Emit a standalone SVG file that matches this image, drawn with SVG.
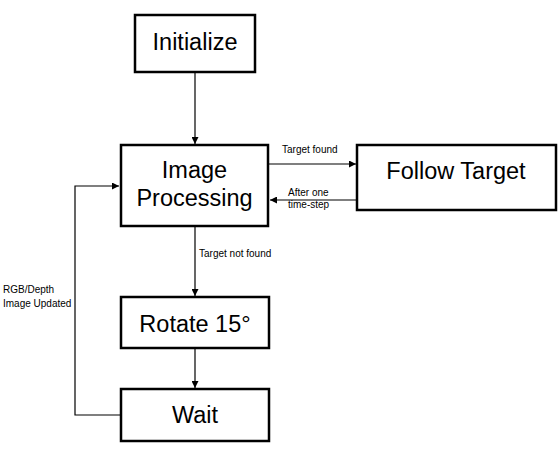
<svg xmlns="http://www.w3.org/2000/svg" width="559" height="457" viewBox="0 0 559 457">
<style>
.box{fill:#fff;stroke:#000;stroke-width:2.5}
.big{font-family:"Liberation Sans",Arial,sans-serif;font-size:23.5px;fill:#000;text-anchor:middle}
.sm{font-family:"Liberation Sans",Arial,sans-serif;font-size:10px;fill:#000}
.ln{fill:none;stroke:#000;stroke-width:1.2}
</style>
<defs>
<marker id="ah" viewBox="0 0 10 10" refX="10" refY="5" markerWidth="7" markerHeight="7" markerUnits="userSpaceOnUse" orient="auto">
<path d="M0,0 L10,5 L0,10 z" fill="#000"/>
</marker>
</defs>
<rect width="559" height="457" fill="#fff"/>
<g id="connectors">
<path class="ln" d="M195,72 V144" marker-end="url(#ah)"/>
<path class="ln" d="M269,164 H356" marker-end="url(#ah)"/>
<path class="ln" d="M357,200 H270" marker-end="url(#ah)"/>
<path class="ln" d="M195,227 V296" marker-end="url(#ah)"/>
<path class="ln" d="M195,348 V388" marker-end="url(#ah)"/>
<path class="ln" d="M120,415 H75 V186 H119" marker-end="url(#ah)"/>
<text class="sm" x="282" y="153">Target found</text>
<text class="sm" x="288" y="196">After one</text>
<text class="sm" x="288" y="208">time-step</text>
<text class="sm" x="199" y="257">Target not found</text>
<text class="sm" x="3" y="293">RGB/Depth</text>
<text class="sm" x="3" y="307">Image Updated</text>
</g>
<g id="initialize">
<rect class="box" x="135" y="15" width="120" height="57"/>
<text class="big" x="195" y="50">Initialize</text>
</g>
<g id="image-processing">
<rect class="box" x="121" y="145" width="147" height="81"/>
<text class="big" x="194.5" y="178">Image</text>
<text class="big" x="194.5" y="206">Processing</text>
</g>
<g id="follow-target">
<rect class="box" x="357" y="145" width="199" height="65"/>
<text class="big" x="456" y="179">Follow Target</text>
</g>
<g id="rotate">
<rect class="box" x="121" y="297" width="148" height="51"/>
<text class="big" x="195" y="332">Rotate 15°</text>
</g>
<g id="wait">
<rect class="box" x="121" y="389" width="148" height="52"/>
<text class="big" x="195" y="423">Wait</text>
</g>
</svg>
